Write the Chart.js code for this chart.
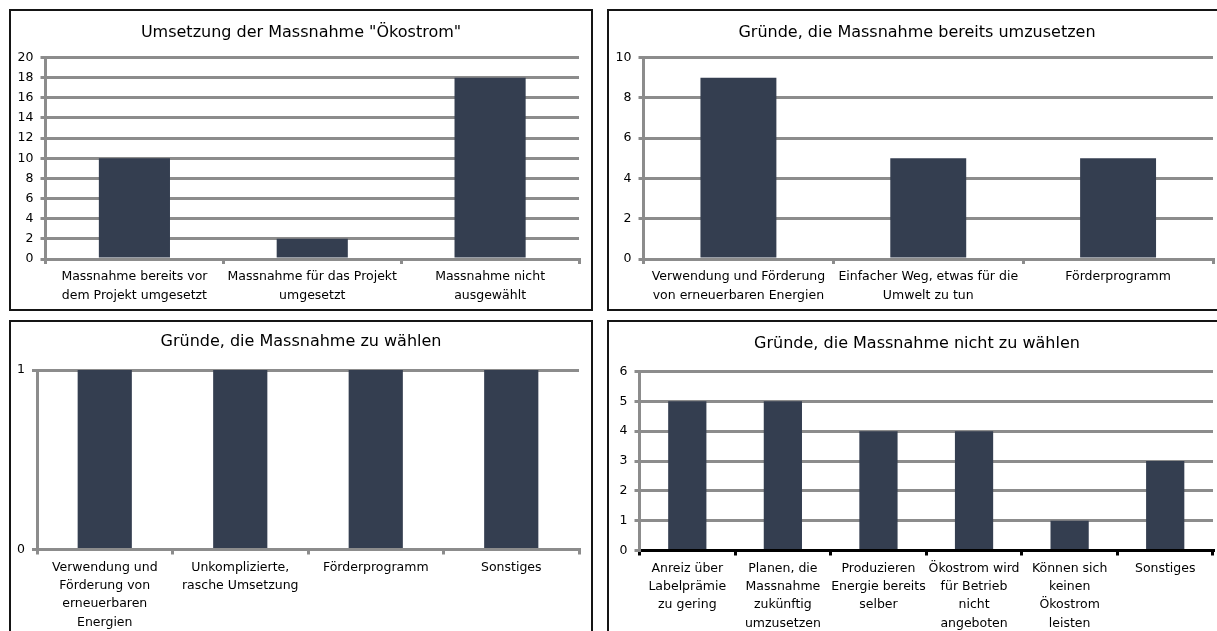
<!DOCTYPE html>
<html lang="de">
<head>
<meta charset="utf-8">
<title>Massnahme Ökostrom</title>
<script src="https://cdn.jsdelivr.net/npm/chart.js@4/dist/chart.umd.min.js"></script>
<style>
  html, body { margin: 0; padding: 0; background: #fff; }
  body { position: relative; width: 1217px; height: 631px; overflow: hidden; }
  .panel { position: absolute; box-sizing: border-box; border: 2px solid #151515; }
  canvas { position: absolute; }
</style>
</head>
<body>
<div class="panel" style="left:9px;top:9px;width:584px;height:302px"></div>
<div class="panel" style="left:607px;top:9px;width:640px;height:302px"></div>
<div class="panel" style="left:9px;top:320px;width:584px;height:340px"></div>
<div class="panel" style="left:607px;top:320px;width:640px;height:340px"></div>

<canvas id="umsetzung" width="584" height="302" style="left:9px;top:9px"></canvas>
<canvas id="bereits" width="620" height="302" style="left:607px;top:9px"></canvas>
<canvas id="waehlen" width="584" height="320" style="left:9px;top:320px"></canvas>
<canvas id="nicht" width="620" height="320" style="left:607px;top:320px"></canvas>

<script>
// --- Umsetzung der Massnahme "Ökostrom"
const umsetzungTitle = 'Umsetzung der Massnahme "Ökostrom"';
const umsetzungLabels = [
  ['Massnahme bereits vor', 'dem Projekt umgesetzt'],
  ['Massnahme für das Projekt', 'umgesetzt'],
  ['Massnahme nicht', 'ausgewählt']
];
const umsetzungValues = [10, 2, 18];
const umsetzungAxis = [0, 20, 2];   // min, max, step

// --- Gründe, die Massnahme bereits umzusetzen
const bereitsTitle = 'Gründe, die Massnahme bereits umzusetzen';
const bereitsLabels = [
  ['Verwendung und Förderung', 'von erneuerbaren Energien'],
  ['Einfacher Weg, etwas für die', 'Umwelt zu tun'],
  ['Förderprogramm']
];
const bereitsValues = [9, 5, 5];
const bereitsAxis = [0, 10, 2];

// --- Gründe, die Massnahme zu wählen
const waehlenTitle = 'Gründe, die Massnahme zu wählen';
const waehlenLabels = [
  ['Verwendung und', 'Förderung von', 'erneuerbaren', 'Energien'],
  ['Unkomplizierte,', 'rasche Umsetzung'],
  ['Förderprogramm'],
  ['Sonstiges']
];
const waehlenValues = [1, 1, 1, 1];
const waehlenAxis = [0, 1, 1];

// --- Gründe, die Massnahme nicht zu wählen
const nichtTitle = 'Gründe, die Massnahme nicht zu wählen';
const nichtLabels = [
  ['Anreiz über', 'Labelprämie', 'zu gering'],
  ['Planen, die', 'Massnahme', 'zukünftig', 'umzusetzen'],
  ['Produzieren', 'Energie bereits', 'selber'],
  ['Ökostrom wird', 'für Betrieb', 'nicht', 'angeboten'],
  ['Können sich', 'keinen', 'Ökostrom', 'leisten'],
  ['Sonstiges']
];
const nichtValues = [5, 5, 4, 4, 1, 3];
const nichtAxis = [0, 6, 1];

// shared styling
const FONT = "'DejaVu Sans', Verdana, sans-serif";
const BAR_COLOR = '#343e50';
const GRID_COLOR = '#8c8c8c';
const TEXT_COLOR = '#000000';

function barChart(id, title, labels, values, axis, box) {
  const [yMin, yMax, yStep] = axis;
  return new Chart(document.getElementById(id), {
    type: 'bar',
    data: {
      labels: labels,
      datasets: [{
        data: values,
        backgroundColor: BAR_COLOR,
        borderWidth: 0,
        barPercentage: 0.4,
        categoryPercentage: 1
      }]
    },
    options: {
      responsive: false,
      animation: false,
      devicePixelRatio: 1,
      layout: { padding: 0 },
      plugins: {
        legend: { display: false },
        tooltip: { enabled: false },
        title: {
          display: true,
          text: title,
          color: TEXT_COLOR,
          font: { family: FONT, size: 16, weight: 'normal', lineHeight: 1.2 },
          padding: { top: box.titleTop, bottom: box.titleBottom }
        }
      },
      scales: {
        x: {
          grid: {
            display: true,
            offset: true,
            drawOnChartArea: false,
            drawTicks: true,
            tickLength: 5,
            lineWidth: 3,
            color: box.xColor
          },
          border: { display: true, color: box.xColor, width: 3, z: 1 },
          ticks: {
            color: TEXT_COLOR,
            font: { family: FONT, size: 12.5, lineHeight: 1.46 },
            padding: 4,
            autoSkip: false,
            maxRotation: 0,
            minRotation: 0
          },
          afterFit: (scale) => { scale.height = box.xHeight; }
        },
        y: {
          min: yMin,
          max: yMax,
          ticks: {
            stepSize: yStep,
            color: TEXT_COLOR,
            font: { family: FONT, size: 12.5 },
            padding: 7
          },
          grid: {
            color: GRID_COLOR,
            lineWidth: 3,
            drawTicks: true,
            tickLength: 5,
            z: -1
          },
          border: { display: true, color: GRID_COLOR, width: 3, z: 1 },
          afterFit: (scale) => { scale.width = box.yWidth; }
        },
        // empty right-hand margin so the plot stops short of the frame
        margin: {
          type: 'linear',
          position: 'right',
          display: true,
          grid: { display: false },
          border: { display: false },
          ticks: { display: false },
          afterFit: (scale) => { scale.width = 14; }
        }
      }
    }
  });
}

barChart('umsetzung', umsetzungTitle, umsetzungLabels, umsetzungValues, umsetzungAxis,
  { titleTop: 14, titleBottom: 15.3, xHeight: 52, yWidth: 36.5, xColor: GRID_COLOR });
barChart('bereits', bereitsTitle, bereitsLabels, bereitsValues, bereitsAxis,
  { titleTop: 14, titleBottom: 15.3, xHeight: 52, yWidth: 36.5, xColor: GRID_COLOR });
barChart('waehlen', waehlenTitle, waehlenLabels, waehlenValues, waehlenAxis,
  { titleTop: 12.4, titleBottom: 18.4, xHeight: 90.5, yWidth: 28, xColor: GRID_COLOR });
barChart('nicht', nichtTitle, nichtLabels, nichtValues, nichtAxis,
  { titleTop: 13.9, titleBottom: 18.4, xHeight: 89.5, yWidth: 32.5, xColor: '#000000' });
</script>
</body>
</html>
